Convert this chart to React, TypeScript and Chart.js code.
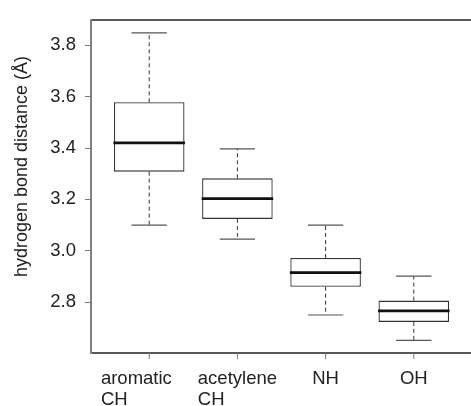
import { useEffect, useRef } from 'react';
import { Chart, registerables } from 'chart.js';

Chart.register(...registerables);

// Categories (multi-line labels)
const categories: string[][] = [['aromatic     ', 'CH'], ['acetylene', 'CH'], ['NH'], ['OH']];
const positions = [1, 2, 3, 4];
// Box plot statistics (Å)
const whiskerLow = [3.1, 3.045, 2.75, 2.651];
const q1 = [3.308, 3.124, 2.86, 2.723];
const median = [3.42, 3.203, 2.915, 2.766];
const q3 = [3.578, 3.282, 2.972, 2.806];
const whiskerHigh = [3.848, 3.397, 3.1, 2.901];
const yTicks = [2.8, 3.0, 3.2, 3.4, 3.6, 3.8];
const yTitle = 'hydrogen bond distance (Å)';

const FONT = '"Liberation Sans", Arial, Helvetica, sans-serif';

const boxPlugin = {
  id: 'boxExtras',
  afterDatasetsDraw(chart: any) {
    const { ctx, chartArea, scales } = chart;
    const x = scales.x;
    const y = scales.y;
    const meta = chart.getDatasetMeta(0);
    ctx.save();
    meta.data.forEach((bar: any, i: number) => {
      const { width } = bar.getProps(['width'], true);
      const cx = x.getPixelForValue(positions[i]);
      const yHi = y.getPixelForValue(whiskerHigh[i]);
      const yLo = y.getPixelForValue(whiskerLow[i]);
      const yQ1 = y.getPixelForValue(q1[i]);
      const yQ3 = y.getPixelForValue(q3[i]);
      const yMed = y.getPixelForValue(median[i]);
      // whiskers (dashed)
      ctx.strokeStyle = '#333';
      ctx.lineWidth = 1;
      ctx.setLineDash([4, 3]);
      ctx.beginPath();
      ctx.moveTo(cx, yQ3);
      ctx.lineTo(cx, yHi);
      ctx.moveTo(cx, yQ1);
      ctx.lineTo(cx, yLo);
      ctx.stroke();
      ctx.setLineDash([]);
      // caps
      ctx.strokeStyle = '#555';
      ctx.lineWidth = 1.2;
      ctx.beginPath();
      ctx.moveTo(cx - width / 4, yHi);
      ctx.lineTo(cx + width / 4, yHi);
      ctx.moveTo(cx - width / 4, yLo);
      ctx.lineTo(cx + width / 4, yLo);
      ctx.stroke();
      // median
      ctx.strokeStyle = '#111';
      ctx.lineWidth = 2.8;
      ctx.beginPath();
      ctx.moveTo(cx - width / 2 - 0.5, yMed);
      ctx.lineTo(cx + width / 2 + 0.5, yMed);
      ctx.stroke();
    });

    // frame
    const { left, right, top, bottom } = chartArea;
    ctx.strokeStyle = '#222';
    ctx.lineWidth = 1.5;
    ctx.beginPath();
    ctx.moveTo(left, top);
    ctx.lineTo(right, top);
    ctx.lineTo(right, bottom);
    ctx.lineTo(left, bottom);
    ctx.stroke();
    ctx.strokeStyle = '#808080';
    ctx.lineWidth = 2;
    ctx.beginPath();
    ctx.moveTo(left, top - 0.75);
    ctx.lineTo(left, bottom + 0.75);
    ctx.stroke();

    // x ticks and labels
    ctx.strokeStyle = '#777';
    ctx.lineWidth = 1;
    ctx.font = `18.5px ${FONT}`;
    ctx.fillStyle = '#222';
    ctx.textAlign = 'left';
    ctx.textBaseline = 'alphabetic';
    positions.forEach((p, i) => {
      const cx = x.getPixelForValue(p);
      ctx.beginPath();
      ctx.moveTo(cx, bottom);
      ctx.lineTo(cx, bottom + 6);
      ctx.stroke();
      const lines = categories[i];
      const maxW = Math.max(...lines.map((l) => ctx.measureText(l).width));
      const sx = cx - maxW / 2;
      lines.forEach((l, k) => {
        ctx.fillText(l.trim(), sx, bottom + 31 + k * 20.5);
      });
    });

    // y axis title
    ctx.font = `18px ${FONT}`;
    ctx.textAlign = 'center';
    ctx.textBaseline = 'alphabetic';
    ctx.translate(left - 64, (top + bottom) / 2 - 20);
    ctx.rotate(-Math.PI / 2);
    ctx.fillText(yTitle, 0, 0);
    ctx.restore();
  },
};

export default function App() {
  const ref = useRef<HTMLCanvasElement | null>(null);
  useEffect(() => {
    if (!ref.current) return;
    const chart = new Chart(ref.current, {
      type: 'bar',
      data: {
        datasets: [
          {
            data: positions.map((p, i) => ({ x: p, y: [q1[i], q3[i]] })) as any,
            backgroundColor: '#ffffff',
            borderColor: '#333',
            borderWidth: 1.3,
            borderSkipped: false,
            barPercentage: 0.8,
            categoryPercentage: 1,
          },
        ],
      },
      options: {
        responsive: false,
        animation: false,
        layout: { padding: { top: 11, right: 8, left: 0, bottom: 0 } },
        plugins: { legend: { display: false }, tooltip: { enabled: false } },
        scales: {
          x: {
            type: 'linear',
            offset: false,
            min: 0.34,
            max: 4.66,
            afterBuildTicks: (s: any) => {
              s.ticks = positions.map((v) => ({ value: v }));
            },
            afterFit: (s: any) => {
              s.height = 53;
            },
            ticks: { display: false },
            grid: { display: false, offset: false },
            border: { display: false },
          },
          y: {
            type: 'linear',
            min: 2.602,
            max: 3.898,
            afterBuildTicks: (s: any) => {
              s.ticks = yTicks.map((v) => ({ value: v }));
            },
            afterFit: (s: any) => {
              s.width = 91;
            },
            ticks: {
              padding: 9,
              color: '#222',
              font: { family: FONT, size: 18.5 },
              callback: (v: any) => Number(v).toFixed(1),
            },
            grid: {
              display: true,
              drawOnChartArea: false,
              drawTicks: true,
              tickLength: 6,
              color: '#777',
              lineWidth: 1,
            },
            border: { display: false },
            title: { display: false },
          },
        },
      },
      plugins: [boxPlugin],
    });
    return () => chart.destroy();
  }, []);
  return (
    <div style={{ position: 'fixed', left: 0, top: 0, width: 480, height: 406, background: '#fff' }}>
      <canvas ref={ref} width={480} height={406} style={{ width: 480, height: 406 }} />
    </div>
  );
}
